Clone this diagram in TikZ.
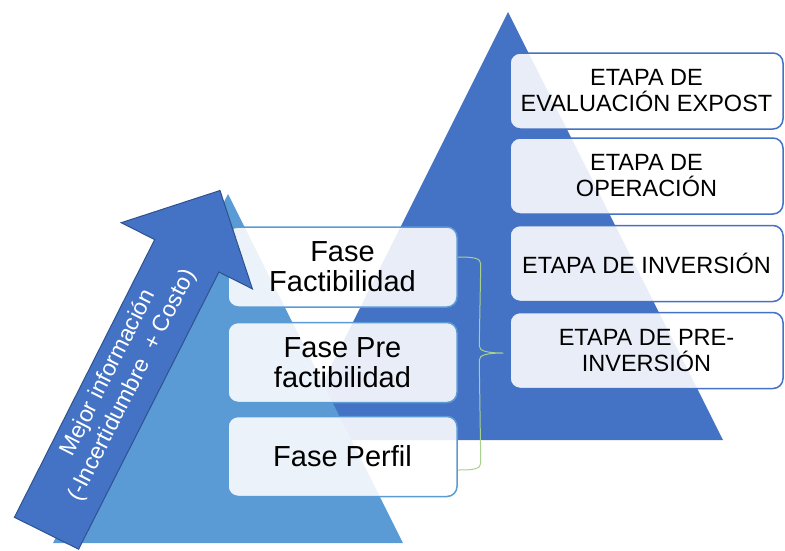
\documentclass[tikz,border=0pt]{standalone}
\usepackage{fontspec}
\setmainfont{Liberation Sans}
\usetikzlibrary{calc}
\definecolor{darkb}{HTML}{4472C4}
\definecolor{lightb}{HTML}{5B9BD5}
\definecolor{arrowedge}{HTML}{2F528F}
\definecolor{bracegreen}{HTML}{A9D18E}
\begin{document}
\begin{tikzpicture}[x=1pt,y=-1pt,
  etapa/.style={draw=darkb, line width=1.5pt, fill=white, fill opacity=0.88, text opacity=1,
    rounded corners=10pt, minimum width=273pt, minimum height=76pt, inner sep=0pt,
    align=center, font=\fontsize{23.5}{26}\selectfont},
  fase/.style={draw=lightb, line width=1.5pt, fill=white, fill opacity=0.88, text opacity=1,
    rounded corners=10pt, minimum width=229pt, minimum height=80pt, inner sep=0pt,
    align=center, font=\fontsize{29}{30}\selectfont},
  arrowtext/.style={text=white, align=center, rotate=63.2, inner sep=0pt,
    font=\fontsize{23}{27}\selectfont},
  brace/.style={draw=bracegreen, line width=1pt}]
\useasboundingbox (0,0) rectangle (785,550);
% triangles
\fill[darkb] (508,12) -- (723,440) -- (294,440) -- cycle;
% right boxes
\node[etapa] (p1) at (646.5,91) {ETAPA DE\\EVALUACIÓN EXPOST};
\node[etapa] (p2) at (646.5,176) {ETAPA DE\\OPERACIÓN};
\node[etapa] (p3) at (646.5,263.5) {ETAPA DE INVERSIÓN};
\node[etapa] (p4) at (646.5,350.5) {ETAPA DE PRE-\\INVERSIÓN};
\fill[lightb] (228,194) -- (403,543) -- (53,543) -- cycle;
% left boxes
\node[fase] (f1) at (342.5,267) {Fase\\Factibilidad};
\node[fase] (f2) at (342.5,362.5) {Fase Pre\\factibilidad};
\node[fase] (f3) at (342.5,456.5) {Fase Perfil};
% arrow
\draw[fill=darkb, draw=arrowedge, line width=1pt, line join=miter]
  (14.4,517.3) -- (78.6,549.2) -- (218.9,272.0) -- (252.4,288.9) -- (220,190.5)
  -- (121.2,222.7) -- (154.7,239.6) -- cycle;
\node[arrowtext] (lbl) at (120.3,379.3) {Mejor información\\(-Incertidumbre\ \ + Costo)};
% brace
\coordinate (bt) at ($(f1.east)+(0,-10)$);
\coordinate (bb) at ($(f3.east)+(0,13.5)$);
\coordinate (tipc) at ($(p4.west)+(-6,2.5)$);
\draw[brace] (bt) .. controls ($(bt)+(16,0)$) and ($(bt)+(23,1)$) .. ($(bt)+(23,7)$)
  -- ($(tipc)+(-24,-7)$) .. controls ($(tipc)+(-24,-2)$) and ($(tipc)+(-16,0)$) .. (tipc)
  .. controls ($(tipc)+(-16,0)$) and ($(tipc)+(-24,2)$) .. ($(tipc)+(-24,7)$)
  -- ($(bb)+(23,-7)$) .. controls ($(bb)+(23,-1)$) and ($(bb)+(16,0)$) .. (bb);
\end{tikzpicture}
\end{document}
